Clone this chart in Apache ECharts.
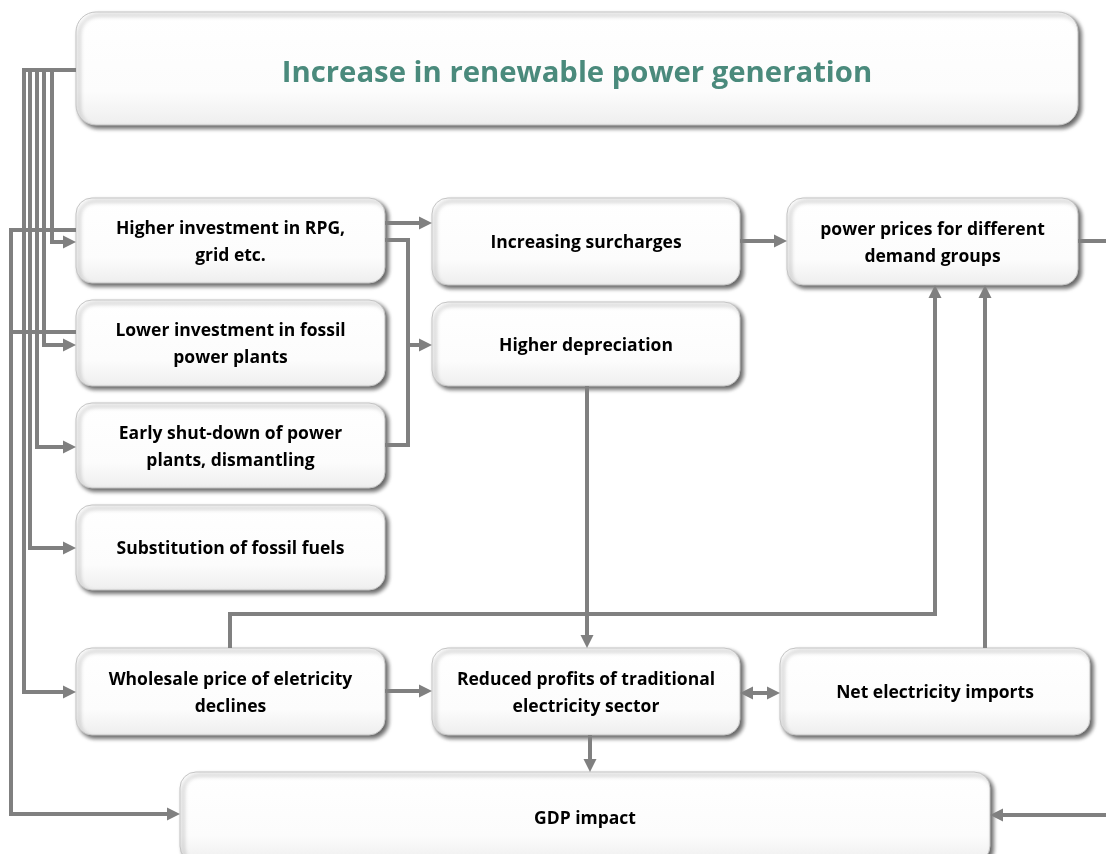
<!DOCTYPE html>
<html>
<head>
<meta charset="utf-8">
<script src="https://cdn.jsdelivr.net/npm/echarts@6/dist/echarts.min.js"></script>
<style>html,body{margin:0;padding:0;background:#fff;}#c{width:1106px;height:854px;}</style>
</head>
<body>
<div id="c"></div>
<script>
// Node texts
const nodeLabels = [
  'Increase in renewable power generation',
  'Higher investment in RPG,\ngrid etc.',
  'Lower investment in fossil\npower plants',
  'Early shut-down of power\nplants, dismantling',
  'Substitution of fossil fuels',
  'Increasing surcharges',
  'Higher depreciation',
  'power prices for different\ndemand groups',
  'Wholesale price of eletricity\ndeclines',
  'Reduced profits of traditional\nelectricity sector',
  'Net electricity imports',
  'GDP impact'
];
// Layout of boxes in diagram units [x1, y1, x2, y2]
const nodeLayout = [
  [76, 12, 1078, 125],
  [76, 198, 385, 283],
  [76, 300, 385, 386],
  [76, 403, 385, 488],
  [76, 505, 385, 590],
  [432, 198, 740, 285],
  [432, 302, 740, 386],
  [787, 198, 1078, 285],
  [76, 648, 385, 735],
  [432, 648, 740, 735],
  [780, 648, 1090, 735],
  [180, 772, 990, 862]
];
// Connector routes in diagram units and arrow heads
const edgeRoutes = [
  [[76,70],[52,70],[52,242],[76,242]],
  [[76,70],[44,70],[44,345],[76,345]],
  [[76,70],[37,70],[37,447],[76,447]],
  [[76,70],[30,70],[30,548],[76,548]],
  [[76,70],[24,70],[24,692],[76,692]],
  [[76,230],[11,230],[11,814],[180,814]],
  [[76,332],[11,332]],
  [[385,223],[432,223]],
  [[385,240],[408,240],[408,445],[385,445]],
  [[408,345],[432,345]],
  [[740,241],[787,241]],
  [[1078,241],[1106,241]],
  [[587,386],[587,648]],
  [[230,648],[230,614],[935,614],[935,285]],
  [[985,648],[985,285]],
  [[385,691],[432,691]],
  [[740,693],[780,693]],
  [[590,735],[590,772]],
  [[1106,815],[990,815]]
];
const edgeHeads = ['end','end','end','end','end','end','none','end','none','end','end','none','end','end','end','end','both','end','end'];

const LINE = '#808080';
const FONT = '"Open Sans", "DejaVu Sans", sans-serif';
const chart = echarts.init(document.getElementById('c'), null, {renderer:'canvas'});

function arrowHead(tip, from, len, wid) {
  const dx = tip[0]-from[0], dy = tip[1]-from[1];
  const d = Math.sqrt(dx*dx+dy*dy) || 1;
  const ux = dx/d, uy = dy/d;
  const bx = tip[0]-ux*len, by = tip[1]-uy*len;
  return {
    base: [bx, by],
    poly: [[tip[0],tip[1]],[bx-uy*wid/2, by+ux*wid/2],[bx+uy*wid/2, by-ux*wid/2]]
  };
}

chart.setOption({
  animation: false,
  grid: {left:0, right:0, top:0, bottom:0},
  xAxis: {type:'value', min:0, max:1106, show:false},
  yAxis: {type:'value', min:0, max:854, inverse:true, show:false},
  series: [
    {
      type: 'custom',
      coordinateSystem: 'cartesian2d',
      clip: false,
      z: 2,
      data: nodeLayout.map(b => [(b[0]+b[2])/2, (b[1]+b[3])/2]),
      renderItem: function (params, api) {
        const i = params.dataIndex;
        const b = nodeLayout[i];
        const p1 = api.coord([b[0], b[1]]);
        const p2 = api.coord([b[2], b[3]]);
        const w = p2[0]-p1[0], h = p2[1]-p1[1];
        const isTitle = i === 0;
        return {
          type: 'group',
          children: [
            {
              type: 'rect',
              shape: {x:p1[0], y:p1[1], width:w, height:h, r: isTitle ? 20 : 16},
              style: {
                fill: new echarts.graphic.LinearGradient(0,0,0,1,[
                  {offset:0, color:'#ffffff'},
                  {offset:0.7, color:'#fcfcfc'},
                  {offset:1, color:'#eeeeee'}
                ]),
                stroke: '#c4c4c4',
                lineWidth: 1,
                shadowBlur: 4,
                shadowOffsetX: 3,
                shadowOffsetY: 3,
                shadowColor: 'rgba(0,0,0,0.6)'
              }
            },
            {
              type: 'text',
              style: {
                text: nodeLabels[i],
                x: p1[0]+w/2,
                y: p1[1]+h/2 + (isTitle ? 5 : 2),
                align: 'center',
                verticalAlign: 'middle',
                fontFamily: FONT,
                fontWeight: 'bold',
                fontSize: isTitle ? 29.3 : 17.5,
                lineHeight: 27,
                fill: isTitle ? '#4a8a7c' : '#000000'
              }
            }
          ]
        };
      }
    },
    {
      type: 'custom',
      coordinateSystem: 'cartesian2d',
      clip: false,
      z: 3,
      data: edgeRoutes.map(r => r[r.length-1]),
      renderItem: function (params, api) {
        const i = params.dataIndex;
        const pts = edgeRoutes[i].map(p => api.coord(p));
        const head = edgeHeads[i];
        const children = [];
        const linePts = pts.map(p => p.slice());
        const L = 13, W = 13;
        if (head === 'end' || head === 'both') {
          const n = pts.length;
          const a = arrowHead(pts[n-1], pts[n-2], L, W);
          linePts[n-1] = a.base;
          children.push({type:'polygon', shape:{points:a.poly}, style:{fill:LINE}});
        }
        if (head === 'both') {
          const a = arrowHead(pts[0], pts[1], L, W);
          linePts[0] = a.base;
          children.push({type:'polygon', shape:{points:a.poly}, style:{fill:LINE}});
        }
        children.unshift({
          type: 'polyline',
          shape: {points: linePts},
          style: {stroke: LINE, lineWidth: 4, fill: null, lineJoin: 'miter', lineCap: 'butt'}
        });
        return {type:'group', children: children};
      }
    }
  ]
});
</script>
</body>
</html>
